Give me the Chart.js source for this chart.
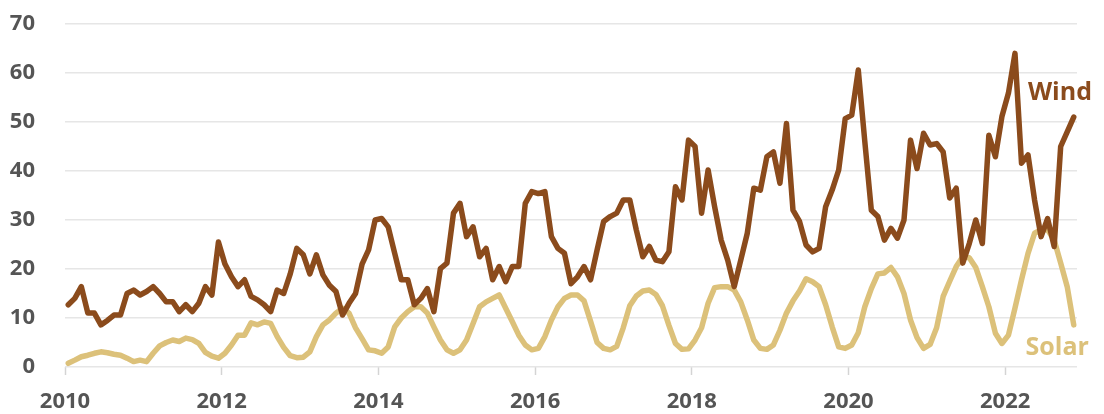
<!DOCTYPE html>
<html>
<head>
<meta charset="utf-8">
<script src="https://cdn.jsdelivr.net/npm/chart.js@4.4.1/dist/chart.umd.min.js"></script>
<style>
  body { margin: 0; background: #fff; }
  canvas { display: block; }
</style>
</head>
<body>
<canvas id="chart" width="1104" height="414"></canvas>
<script>
// monthly values, Jan 2010 .. Nov 2022
const startYear = 2010;

const windValues = [
  12.7, 14, 16.4, 11, 11, 8.6, 9.5, 10.6, 10.6, 15, 15.7, 14.7,      // 2010
  15.4, 16.4, 15, 13.3, 13.3, 11.3, 12.7, 11.3, 13, 16.4, 14.7, 25.5, // 2011
  21, 18.4, 16.4, 17.8, 14.4, 13.7, 12.7, 11.3, 15.7, 15, 19, 24.2,   // 2012
  22.9, 19, 22.9, 18.8, 16.7, 15.4, 10.6, 13, 15, 21, 23.9, 30,       // 2013
  30.3, 28.6, 23.2, 17.8, 17.8, 12.7, 14, 16, 11.3, 20.1, 21.2, 31.4, // 2014
  33.4, 26.6, 28.6, 22.5, 24.2, 17.8, 20.5, 17.4, 20.5, 20.5, 33.4, 35.8, // 2015
  35.4, 35.8, 26.6, 24.2, 23.2, 17, 18.4, 20.5, 17.8, 23.9, 29.7, 30.7,   // 2016
  31.4, 34.1, 34.1, 28, 22.5, 24.6, 21.8, 21.5, 23.5, 36.8, 34.1, 46.3,   // 2017
  45, 31.4, 40.2, 32.7, 25.9, 21.8, 16.4, 21.8, 27.3, 36.5, 36.1, 42.9,   // 2018
  43.9, 37.5, 49.7, 32, 29.7, 24.9, 23.5, 24.2, 32.7, 36.1, 40.2, 50.7,   // 2019
  51.4, 60.6, 46, 32, 30.7, 25.9, 28.3, 26.3, 30, 46.3, 40.5, 47.7,       // 2020
  45.3, 45.6, 43.9, 34.5, 36.5, 21.2, 25.2, 30, 25.2, 47.3, 42.9, 51.1,   // 2021
  55.9, 64, 41.6, 43.3, 34.1, 26.6, 30.3, 24.6, 45, 48, 51                // 2022
];

const solarValues = [
  0.75, 1.4, 2.1, 2.4, 2.8, 3.1, 2.9, 2.6, 2.4, 1.8, 1.1, 1.4,
  1.1, 2.8, 4.3, 5, 5.5, 5.2, 5.9, 5.6, 4.8, 3, 2.2, 1.8,
  2.8, 4.5, 6.5, 6.5, 9, 8.6, 9.2, 8.9, 6.2, 4, 2.3, 1.9,
  2, 3.1, 6.2, 8.6, 9.6, 11, 12, 11, 8, 5.8, 3.5, 3.3,
  2.8, 4.1, 8.2, 10, 11.3, 12.3, 12.3, 11, 8.2, 5.5, 3.5, 2.8,
  3.5, 5.5, 8.9, 12.3, 13.3, 14, 14.7, 12, 9.3, 6.5, 4.5, 3.5,
  3.8, 6.2, 9.6, 12.3, 14, 14.7, 14.7, 13.5, 9.3, 5, 3.8, 3.5,
  4.2, 8, 12.5, 14.5, 15.5, 15.7, 14.8, 12.5, 8.5, 4.8, 3.6, 3.7,
  5.5, 8, 13, 16.2, 16.4, 16.4, 15.7, 13.3, 9.6, 5.5, 3.8, 3.6,
  4.5, 7.5, 11, 13.5, 15.5, 18, 17.4, 16.4, 12.7, 8.2, 4.1, 3.8,
  4.5, 7, 12.3, 16, 19, 19.2, 20.3, 18.4, 15, 9.6, 6, 3.8,
  4.6, 8, 14.4, 17.5, 20.5, 22.5, 22.3, 20.3, 16.4, 12.3, 6.9, 4.8,
  6.5, 12, 17.8, 23.2, 27.3, 28, 28, 25.9, 21.2, 16.4, 8.6
];

const yearTicks = [2010, 2012, 2014, 2016, 2018, 2020, 2022];
const valueTicks = [0, 10, 20, 30, 40, 50, 60, 70];

const WIND_COLOR = '#8b4b1c';
const SOLAR_COLOR = '#dcc17a';
const TEXT_COLOR = '#555555';
const FONT = '"Open Sans", Lato, sans-serif';

// month index -> point in the middle of that month
function toPoints(values) {
  return values.map((v, i) => ({ x: startYear + (i + 0.5) / 12, y: v }));
}

const seriesLabels = {
  id: 'seriesLabels',
  afterDatasetsDraw(chart) {
    const { ctx, scales } = chart;
    const items = [
      { text: 'Wind', color: WIND_COLOR, x: 2022.29, y: 55.9 },
      { text: 'Solar', color: SOLAR_COLOR, x: 2022.26, y: 3.9 }
    ];
    ctx.save();
    ctx.font = 'bold 25px ' + FONT;
    ctx.textAlign = 'left';
    ctx.textBaseline = 'middle';
    items.forEach(it => {
      ctx.fillStyle = it.color;
      ctx.fillText(it.text, scales.x.getPixelForValue(it.x), scales.y.getPixelForValue(it.y));
    });
    ctx.restore();
  }
};

const ctx = document.getElementById('chart').getContext('2d');

new Chart(ctx, {
  type: 'line',
  data: {
    datasets: [
      {
        label: 'Wind',
        data: toPoints(windValues),
        borderColor: WIND_COLOR,
        borderWidth: 5.5,
        pointRadius: 0,
        tension: 0,
        borderJoinStyle: 'round',
        borderCapStyle: 'round'
      },
      {
        label: 'Solar',
        data: toPoints(solarValues),
        borderColor: SOLAR_COLOR,
        borderWidth: 5.5,
        pointRadius: 0,
        tension: 0,
        borderJoinStyle: 'round',
        borderCapStyle: 'round'
      }
    ]
  },
  options: {
    responsive: false,
    animation: false,
    layout: { padding: { top: 24, right: 27, left: 0, bottom: 0 } },
    plugins: {
      legend: { display: false },
      tooltip: { enabled: false }
    },
    scales: {
      x: {
        type: 'linear',
        min: startYear,
        max: startYear + 155 / 12,
        afterBuildTicks: axis => { axis.ticks = yearTicks.map(v => ({ value: v })); },
        afterFit: axis => { axis.height = 47; },
        grid: {
          drawOnChartArea: false,
          drawTicks: true,
          tickLength: 8,
          tickColor: '#d4d4d4',
          tickWidth: 1.5
        },
        border: { display: false },
        ticks: {
          color: TEXT_COLOR,
          font: { family: FONT, size: 22, weight: 'bold' },
          padding: 14,
          maxRotation: 0,
          callback: v => String(v)
        }
      },
      y: {
        min: 0,
        max: 70,
        afterBuildTicks: axis => { axis.ticks = valueTicks.map(v => ({ value: v })); },
        afterFit: axis => { axis.width = 65; },
        grid: {
          color: '#e6e6e6',
          lineWidth: 1.5,
          // invisible tick marks just push the labels away from the plot
          drawTicks: true,
          tickLength: 30,
          tickColor: 'rgba(0,0,0,0)'
        },
        border: { display: false },
        ticks: {
          color: TEXT_COLOR,
          font: { family: FONT, size: 22, weight: 'bold' },
          padding: 0
        }
      }
    }
  },
  plugins: [seriesLabels]
});
</script>
</body>
</html>
